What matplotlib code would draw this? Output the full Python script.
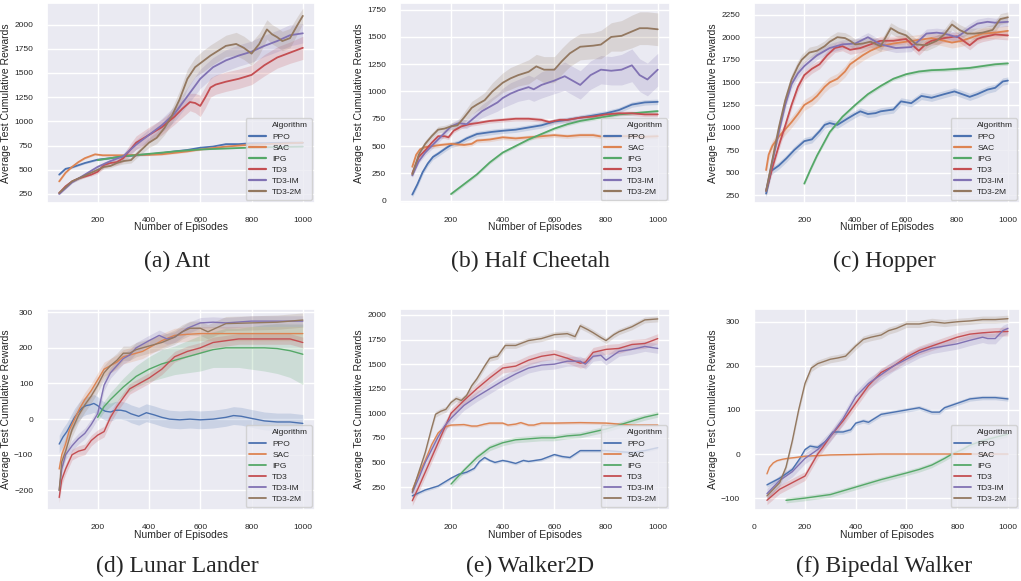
import numpy as np
import matplotlib
matplotlib.use('Agg')
import matplotlib.pyplot as plt
from matplotlib.lines import Line2D
import seaborn as sns

algos = ['PPO', 'SAC', 'IPG', 'TD3', 'TD3-IM', 'TD3-2M']

# ---- (a) Ant ----
ant = {
    'PPO': ([50, 75, 100, 150, 200, 250, 300, 350, 400, 450, 500, 550, 600, 650, 700, 750, 800, 850, 900, 950, 1000],
            [450, 510, 525, 570, 605, 620, 640, 650, 660, 672, 690, 705, 728, 740, 765, 765, 775, 775, 778, 780, 780]),
    'SAC': ([50, 75, 100, 125, 150, 190, 220, 260, 300, 350, 400, 450, 500, 550, 600, 650, 700, 750, 800, 850, 900, 950, 1000],
            [380, 470, 530, 580, 620, 660, 650, 650, 650, 655, 655, 660, 675, 690, 710, 725, 740, 750, 760, 765, 770, 775, 780]),
    'IPG': ([200, 300, 400, 500, 600, 700, 800, 900, 1000],
            [600, 640, 665, 690, 710, 720, 730, 735, 740]),
    'TD3': ([50, 75, 100, 125, 150, 175, 200, 225, 250, 275, 300, 325, 350, 400, 450, 500, 530, 560, 580, 600,
             620, 640, 660, 700, 750, 800, 850, 900, 950, 1000],
            [260, 330, 380, 410, 430, 450, 480, 550, 570, 580, 620, 700, 780, 860, 940, 1050, 1130, 1200, 1190, 1160,
             1250, 1350, 1380, 1410, 1440, 1480, 1580, 1660, 1710, 1760]),
    'TD3-IM': ([50, 100, 150, 200, 250, 300, 350, 400, 450, 500, 550, 600, 650, 700, 750, 800, 850, 900, 950, 1000],
               [250, 370, 450, 530, 590, 640, 760, 860, 960, 1080, 1260, 1440, 1560, 1630, 1680, 1720, 1780, 1830, 1890, 1910]),
    'TD3-2M': ([50, 100, 150, 200, 225, 250, 275, 300, 330, 360, 400, 430, 460, 490, 520, 550, 580, 610, 640, 670,
                700, 740, 770, 800, 830, 860, 880, 900, 920, 950, 980, 1000],
               [260, 380, 440, 500, 530, 540, 570, 590, 600, 680, 780, 830, 930, 1060, 1230, 1440, 1560, 1620, 1680, 1730,
                1780, 1800, 1760, 1700, 1800, 1950, 1900, 1870, 1830, 1860, 2000, 2090]),
}
ant_band = {
    'PPO': 10, 'SAC': 10, 'IPG': 5,
    'TD3': [10, 10, 10, 10, 10, 15, 20, 30, 30, 30, 40, 60, 70, 80, 80, 80, 90, 90, 100, 110,
            110, 100, 100, 100, 100, 100, 110, 110, 110, 120],
    'TD3-IM': [10, 10, 15, 20, 20, 30, 50, 60, 70, 80, 90, 100, 100, 110, 110, 110, 110, 110, 110, 100],
    'TD3-2M': [10, 15, 20, 20, 20, 20, 25, 30, 30, 40, 50, 60, 70, 80, 90, 100, 100, 110, 110, 110,
               110, 120, 120, 120, 110, 100, 100, 100, 100, 100, 90, 80],
}

# ---- (b) Half Cheetah ----
cheetah = {
    'PPO': ([50, 70, 90, 110, 130, 150, 180, 200, 230, 260, 300, 330, 360, 400, 450, 500, 550, 600, 650, 700, 750,
             800, 850, 900, 950, 1000],
            [55, 150, 260, 340, 400, 430, 480, 510, 530, 570, 610, 620, 630, 640, 650, 670, 690, 725, 740, 760, 780,
             800, 830, 880, 900, 905]),
    'SAC': ([50, 65, 80, 100, 130, 160, 200, 250, 280, 300, 350, 400, 450, 500, 550, 600, 650, 700, 750, 800, 850,
             900, 950, 1000],
            [310, 420, 470, 490, 500, 510, 520, 510, 520, 550, 560, 580, 570, 580, 590, 600, 590, 600, 600, 580, 590,
             590, 585, 590]),
    'IPG': ([200, 250, 300, 350, 400, 450, 500, 550, 600, 650, 700, 750, 800, 850, 900, 950, 1000],
            [60, 150, 240, 350, 440, 500, 560, 610, 660, 700, 730, 750, 770, 790, 800, 810, 820]),
    'TD3': ([50, 75, 100, 125, 150, 175, 190, 210, 240, 270, 300, 350, 400, 450, 500, 550, 580, 620, 650, 700, 750,
             800, 850, 900, 950, 1000],
            [250, 400, 460, 530, 590, 590, 580, 640, 680, 700, 710, 730, 740, 750, 750, 740, 720, 740, 740, 760, 770,
             790, 800, 800, 790, 790]),
    'TD3-IM': ([50, 75, 100, 125, 150, 175, 200, 230, 260, 290, 320, 350, 380, 400, 430, 460, 500, 520, 550, 600,
                640, 670, 700, 740, 780, 820, 860, 900, 930, 960, 1000],
               [230, 360, 440, 500, 560, 620, 680, 710, 700, 760, 820, 860, 900, 940, 980, 1010, 1040, 1020, 1060, 1100,
                1140, 1100, 1060, 1150, 1200, 1190, 1200, 1240, 1150, 1110, 1200]),
    'TD3-2M': ([50, 75, 100, 125, 150, 175, 200, 225, 250, 280, 300, 330, 360, 400, 430, 460, 500, 530, 560, 600,
                630, 660, 700, 750, 780, 820, 860, 900, 930, 960, 1000],
               [240, 420, 520, 590, 650, 660, 680, 690, 760, 850, 880, 920, 1000, 1080, 1120, 1150, 1180, 1230, 1200, 1200,
                1280, 1350, 1410, 1420, 1430, 1500, 1510, 1550, 1580, 1580, 1570]),
}
cheetah_band = {
    'PPO': 25, 'SAC': 20, 'IPG': 15, 'TD3': 20,
    'TD3-IM': [20, 20, 25, 30, 30, 30, 30, 40, 40, 50, 60, 70, 80, 90, 100, 100, 110, 110, 120, 120,
               130, 130, 130, 130, 130, 130, 140, 150, 150, 150, 150],
    'TD3-2M': [20, 30, 30, 30, 30, 30, 30, 40, 50, 60, 60, 70, 80, 90, 100, 100, 110, 110, 120, 120,
               120, 120, 120, 120, 130, 130, 140, 150, 150, 150, 150],
}

# ---- (c) Hopper ----
hopper = {
    'PPO': ([50, 70, 100, 130, 160, 200, 230, 260, 280, 300, 330, 370, 400, 420, 450, 480, 500, 550, 580, 620, 660,
             700, 750, 790, 820, 850, 880, 920, 950, 980, 1000],
            [270, 520, 580, 660, 750, 850, 870, 960, 1030, 1050, 1030, 1100, 1150, 1180, 1150, 1160, 1180, 1200, 1290,
             1270, 1350, 1330, 1370, 1400, 1370, 1340, 1370, 1420, 1440, 1510, 1520]),
    'SAC': ([50, 60, 75, 100, 125, 150, 175, 200, 230, 250, 280, 300, 330, 360, 380, 400, 430, 460, 500, 550, 600,
             650, 700, 750, 780, 820, 850, 900, 950, 1000],
            [530, 700, 800, 900, 980, 1060, 1150, 1250, 1300, 1350, 1450, 1500, 1540, 1620, 1700, 1740, 1800, 1850,
             1900, 1930, 1950, 1970, 1990, 1960, 1940, 1960, 1990, 2040, 2050, 2070]),
    'IPG': ([200, 225, 250, 300, 350, 400, 450, 500, 550, 600, 650, 700, 750, 800, 850, 900, 950, 1000],
            [380, 540, 690, 950, 1120, 1250, 1370, 1460, 1540, 1590, 1620, 1635, 1640, 1650, 1660, 1680, 1700, 1710]),
    'TD3': ([50, 75, 100, 125, 150, 175, 200, 230, 260, 290, 320, 350, 380, 420, 460, 500, 550, 600, 630, 650, 680,
             700, 750, 800, 830, 850, 880, 900, 950, 1000],
            [300, 560, 800, 1020, 1250, 1450, 1580, 1650, 1700, 1800, 1880, 1900, 1860, 1880, 1920, 1960, 1960, 1980,
             1900, 1850, 1930, 1960, 1990, 2010, 1950, 1910, 1980, 2000, 2030, 2020]),
    'TD3-IM': ([50, 75, 100, 125, 150, 175, 200, 250, 300, 350, 400, 450, 500, 560, 620, 650, 680, 720, 750, 800,
                850, 880, 920, 950, 1000],
               [300, 630, 950, 1250, 1480, 1600, 1680, 1800, 1880, 1920, 1930, 2000, 1920, 1880, 1890, 1960, 2040, 2050,
                2040, 2000, 2100, 2150, 2170, 2160, 2170]),
    'TD3-2M': ([50, 75, 100, 125, 150, 175, 190, 220, 250, 280, 300, 330, 360, 380, 400, 430, 460, 500, 540, 570,
                600, 640, 680, 720, 750, 780, 810, 840, 870, 900, 940, 970, 1000],
               [300, 650, 1000, 1300, 1530, 1680, 1750, 1830, 1850, 1900, 1950, 2000, 1990, 1960, 1920, 1930, 1950, 1900,
                2100, 2050, 2020, 1920, 1910, 1960, 2030, 2140, 2080, 2040, 2040, 2050, 2080, 2200, 2220]),
}
hopper_band = {'PPO': 40, 'SAC': 60, 'IPG': 20, 'TD3': 50, 'TD3-IM': 50, 'TD3-2M': 60}

# ---- (d) Lunar Lander ----
lunar = {
    'PPO': ([50, 65, 80, 95, 110, 125, 140, 155, 170, 185, 200, 215, 230, 250, 270, 290, 310, 330, 360, 390, 420,
             450, 480, 520, 560, 600, 650, 700, 730, 760, 800, 850, 900, 950, 1000],
            [-70, -50, -35, -15, 5, 20, 32, 38, 40, 44, 38, 28, 22, 20, 25, 25, 22, 15, 8, 18, 12,
             5, 0, -2, 0, -2, 0, 5, 10, 8, 2, -5, -8, -8, -12]),
    'SAC': ([50, 60, 75, 90, 110, 130, 150, 175, 200, 225, 250, 275, 300, 325, 350, 375, 400, 450, 500, 550, 600,
             700, 800, 900, 1000],
            [-140, -100, -70, -30, 0, 30, 55, 80, 110, 140, 150, 160, 175, 180, 185, 190, 200, 220, 235, 238, 240,
             240, 240, 240, 240]),
    'IPG': ([200, 225, 250, 300, 350, 400, 450, 500, 550, 600, 650, 700, 750, 800, 850, 900, 950, 1000],
            [5, 35, 55, 90, 120, 140, 155, 165, 175, 185, 195, 200, 200, 200, 200, 198, 192, 182]),
    'TD3': ([50, 60, 75, 100, 125, 150, 175, 200, 225, 250, 275, 300, 325, 350, 400, 450, 500, 550, 600, 650, 700,
             750, 800, 850, 900, 950, 1000],
            [-220, -170, -140, -100, -90, -85, -60, -45, -35, 5, 35, 60, 85, 95, 115, 140, 175, 190, 200, 215, 220,
             225, 225, 225, 225, 225, 215]),
    'TD3-IM': ([50, 60, 75, 100, 125, 150, 175, 200, 225, 250, 275, 300, 325, 350, 375, 400, 440, 470, 500, 550,
                600, 650, 700, 800, 900, 1000],
               [-200, -140, -100, -75, -55, -40, -15, 15, 95, 130, 150, 170, 180, 200, 210, 220, 235, 225, 230, 255,
                270, 272, 270, 275, 275, 275]),
    'TD3-2M': ([50, 60, 75, 100, 125, 150, 175, 200, 225, 250, 275, 300, 325, 350, 400, 450, 500, 530, 560, 600,
                630, 660, 700, 800, 900, 1000],
               [-200, -120, -90, -30, 10, 40, 65, 95, 130, 150, 165, 185, 185, 195, 205, 215, 230, 245, 255, 255,
                245, 255, 268, 270, 272, 278]),
}
lunar_band = {
    'PPO': 25, 'SAC': 20, 'TD3': 15, 'TD3-IM': 15, 'TD3-2M': 20,
    'IPG': [10, 15, 20, 25, 30, 35, 40, 40, 45, 50, 50, 55, 55, 60, 65, 70, 75, 85],
}

# ---- (e) Walker2D ----
walker = {
    'PPO': ([50, 100, 150, 200, 230, 260, 290, 310, 330, 350, 370, 400, 420, 450, 480, 500, 550, 600, 630, 660, 700,
             750, 800, 850, 900, 950, 1000],
            [160, 220, 260, 340, 380, 400, 440, 510, 550, 520, 500, 520, 510, 490, 520, 510, 530, 580, 560, 550, 620,
             620, 620, 610, 600, 620, 650]),
    'SAC': ([50, 75, 100, 125, 150, 175, 200, 250, 280, 300, 330, 350, 400, 420, 450, 470, 500, 520, 550, 600, 700,
             800, 850, 900, 1000],
            [220, 380, 520, 680, 800, 860, 880, 885, 870, 870, 890, 900, 900, 880, 890, 905, 880, 880, 900, 900, 905,
             900, 890, 880, 880]),
    'IPG': ([200, 250, 300, 350, 400, 450, 500, 550, 600, 650, 700, 750, 800, 850, 900, 950, 1000],
            [280, 420, 550, 650, 700, 730, 740, 750, 750, 770, 780, 810, 840, 880, 920, 960, 990]),
    'TD3': ([50, 75, 100, 125, 150, 175, 200, 250, 300, 350, 400, 450, 500, 550, 600, 650, 700, 720, 750, 800, 850,
             900, 950, 1000],
            [110, 250, 400, 550, 700, 850, 1000, 1130, 1250, 1360, 1460, 1480, 1540, 1580, 1600, 1560, 1510, 1520,
             1620, 1650, 1660, 1700, 1710, 1760]),
    'TD3-IM': ([50, 75, 100, 125, 150, 175, 200, 250, 300, 350, 400, 450, 500, 550, 600, 650, 700, 720, 750, 780,
                800, 850, 900, 950, 1000],
               [190, 340, 500, 630, 760, 870, 950, 1080, 1170, 1250, 1330, 1400, 1460, 1490, 1500, 1530, 1530, 1500,
                1580, 1590, 1540, 1630, 1650, 1680, 1660]),
    'TD3-2M': ([50, 75, 100, 125, 140, 160, 180, 200, 220, 240, 260, 280, 300, 330, 350, 380, 410, 450, 500, 550,
                600, 650, 680, 700, 730, 750, 780, 800, 830, 850, 900, 950, 1000],
               [200, 400, 600, 850, 990, 1020, 1040, 1110, 1150, 1130, 1180, 1280, 1350, 1480, 1560, 1580, 1690, 1690,
                1740, 1760, 1800, 1810, 1780, 1890, 1850, 1820, 1770, 1740, 1800, 1830, 1880, 1950, 1960]),
}
walker_band = {'PPO': 15, 'SAC': 15, 'IPG': 30, 'TD3': 50, 'TD3-IM': 50, 'TD3-2M': 30}

# ---- (f) Bipedal Walker ----
bipedal = {
    'PPO': ([50, 100, 150, 180, 200, 220, 250, 280, 310, 350, 380, 400, 430, 450, 500, 550, 600, 650, 700, 730, 750,
             800, 850, 900, 950, 1000],
            [-70, -55, -35, -10, 10, 18, 15, 28, 50, 50, 55, 70, 75, 72, 90, 95, 100, 105, 95, 95, 105,
             115, 125, 128, 128, 125]),
    'SAC': ([50, 60, 75, 90, 110, 130, 160, 200, 300, 400, 500, 600, 700, 800, 900, 1000],
            [-45, -30, -20, -15, -12, -10, -8, -5, -2, -1, 0, 0, 0, 0, 0, 0]),
    'IPG': ([125, 200, 300, 400, 500, 600, 650, 700, 750, 780, 820, 850, 900, 950, 1000],
            [-105, -100, -92, -75, -58, -43, -35, -25, -10, 0, 10, 20, 30, 38, 45]),
    'TD3': ([50, 100, 150, 200, 230, 250, 270, 300, 350, 400, 450, 500, 550, 600, 650, 700, 750, 800, 850, 900, 950,
             1000],
            [-105, -80, -65, -50, -20, 0, 15, 40, 75, 115, 155, 185, 200, 220, 235, 245, 255, 265, 272, 275, 277, 278]),
    'TD3-IM': ([50, 100, 150, 200, 250, 300, 350, 400, 450, 500, 550, 600, 650, 700, 750, 800, 850, 900, 920, 950,
                980, 1000],
               [-90, -60, -40, -10, 10, 40, 80, 130, 160, 180, 200, 215, 230, 240, 245, 250, 258, 265, 262, 262,
                280, 285]),
    'TD3-2M': ([50, 75, 100, 125, 150, 175, 200, 225, 250, 275, 300, 330, 360, 400, 430, 460, 500, 530, 560, 600,
                650, 700, 750, 800, 850, 900, 950, 1000],
               [-95, -80, -65, -30, 30, 100, 160, 195, 205, 210, 215, 218, 222, 245, 260, 265, 270, 280, 285, 295,
                295, 300, 297, 300, 302, 305, 305, 307]),
}
bipedal_band = {'PPO': 5, 'SAC': 2, 'IPG': 6, 'TD3': 10, 'TD3-IM': 12, 'TD3-2M': 8}

captions = ['(a) Ant', '(b) Half Cheetah', '(c) Hopper', '(d) Lunar Lander', '(e) Walker2D', '(f) Bipedal Walker']
panel_data = [ant, cheetah, hopper, lunar, walker, bipedal]
panel_bands = [ant_band, cheetah_band, hopper_band, lunar_band, walker_band, bipedal_band]
ylims = [(157, 2223), (-22, 1811), (166, 2378), (-255, 309), (16, 2061), (-127, 329)]
yticks = [np.arange(250, 2001, 250), np.arange(0, 1751, 250), np.arange(250, 2251, 250),
          np.arange(-200, 301, 100), np.arange(250, 2001, 250), np.arange(-100, 301, 100)]
xticks = [[200, 400, 600, 800, 1000]] * 5 + [[0, 200, 400, 600, 800, 1000]]
xlims = [(2.5, 1047.5)] * 5 + [(-1, 1047.5)]

sns.set_theme(style='darkgrid')
plt.rcParams['font.family'] = ['Liberation Sans', 'DejaVu Sans']
colors = sns.color_palette('deep', 6)

W, H = 1021, 581
fig = plt.figure(figsize=(W / 100, H / 100), dpi=100)

# axes boxes in pixels: left, right, top, bottom
boxes = [(47, 315, 3, 203), (400, 670, 3, 203), (754, 1020, 3, 203),
         (47, 315, 309, 510), (400, 670, 309, 510), (754, 1020, 309, 510)]
cap_x = [177, 530, 884, 177, 530, 884]
cap_y = [261, 261, 261, 566, 566, 566]

for i, (l, r, t, b) in enumerate(boxes):
    ax = fig.add_axes([l / W, 1 - b / H, (r - l) / W, (b - t) / H])
    data = panel_data[i]
    bands = panel_bands[i]
    lw = 1.3 if i < 3 else 1.0
    handles = [Line2D([], [], linestyle='none')]
    for algo, c in zip(algos, colors):
        xs, ys = data[algo]
        xs = np.array(xs, float)
        ys = np.array(ys, float)
        band = np.broadcast_to(np.array(bands[algo], float), ys.shape)
        ax.fill_between(xs, ys - band, ys + band, color=c, alpha=0.2, lw=0)
        h, = ax.plot(xs, ys, color=c, lw=lw)
        handles.append(Line2D([], [], color=c, lw=lw + 0.3))
    ax.set_xlim(*xlims[i])
    ax.set_ylim(*ylims[i])
    ax.set_xticks(xticks[i])
    ax.set_yticks(yticks[i])
    ax.tick_params(labelsize=6, pad=4, colors='.15')
    ax.set_xlabel('Number of Episodes', fontsize=7.5, labelpad=-1, color='.15')
    ax.set_ylabel('Average Test Cumulative Rewards', fontsize=7.5, labelpad=2, color='.15')
    leg = ax.legend(handles, ['Algorithm'] + algos, loc='lower right', fontsize=6,
                    handlelength=2.0, labelspacing=0.4, borderaxespad=0.4, borderpad=0.4,
                    frameon=True)
    fig.text(cap_x[i] / W, 1 - cap_y[i] / H, captions[i], fontsize=17,
             family='Liberation Serif', ha='center', va='center')

fig.savefig('out.png', dpi=100)
